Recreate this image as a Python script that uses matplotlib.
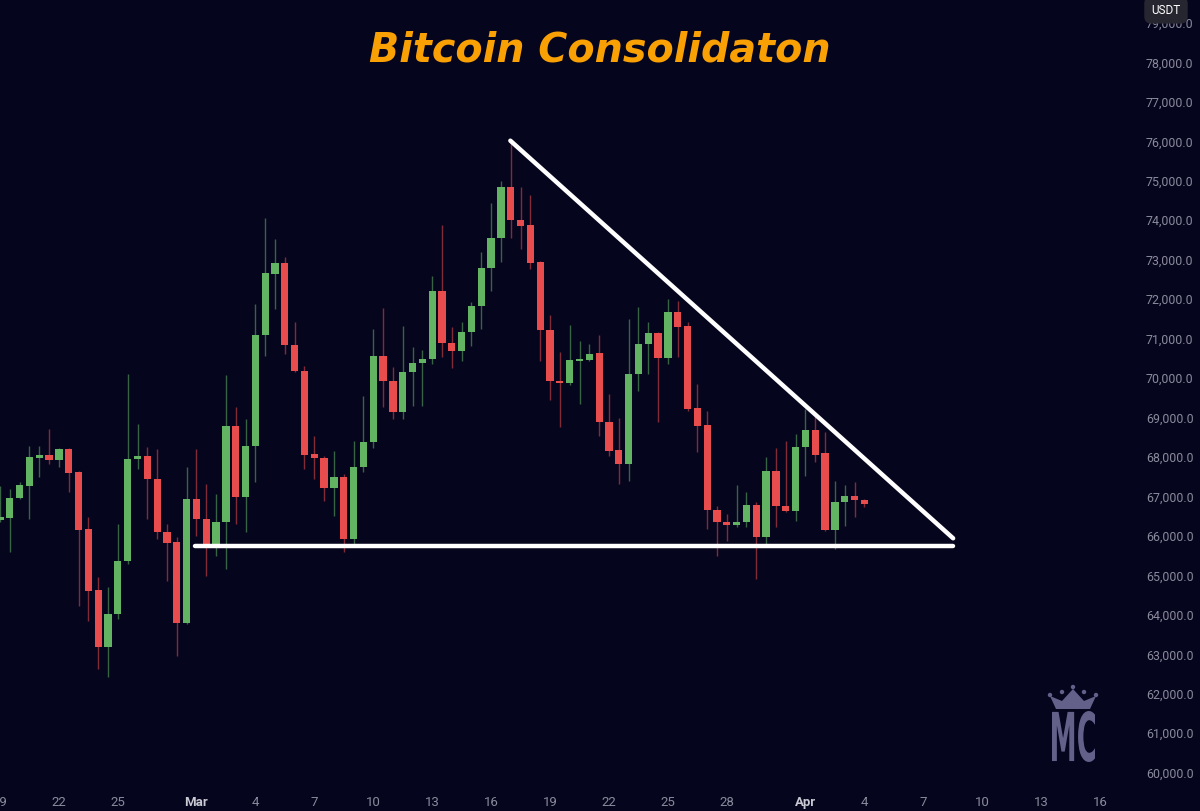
import numpy as np
import matplotlib
import matplotlib.pyplot as plt
from matplotlib.textpath import TextPath
from matplotlib.font_manager import FontProperties
from matplotlib.patches import PathPatch, Polygon, Circle
from matplotlib.transforms import Affine2D, IdentityTransform

matplotlib.use('agg')

# 12h candles, first candle sits on the "19" tick (day 0)
opens = [66378, 66429, 66935, 67239, 67949, 68025, 67898, 68177, 67594, 66150,
         64600, 63160, 63996, 65339, 67924, 68000, 67417, 66074, 65820, 63768,
         66910, 66403, 65719, 66327, 68760, 66961, 68253, 71066, 72612, 72890,
         70812, 70154, 68050, 67949, 67189, 67467, 65896, 67721, 68354, 70534,
         69900, 69115, 70128, 70356, 70458, 72181, 70863, 70660, 71142, 71801,
         72764, 73524, 74816, 73980, 73853, 72916, 71192, 69900, 69849, 70407,
         70432, 70610, 68861, 68152, 67797, 70077, 70838, 71116, 70483, 71649,
         71294, 69216, 68785, 66631, 66327, 66251, 66327, 66758, 65947, 67620,
         66733, 66606, 68228, 68658, 68075, 66124, 66834, 66986, 66885]
highs = [67239, 67163, 67341, 68253, 68253, 68684, 68200, 68200, 67620, 66454,
         64933, 64680, 66276, 70077, 68810, 68228, 68177, 66276, 65947, 67721,
         68177, 67290, 67037, 70052, 69241, 68937, 71851, 74031, 73498, 73042,
         71395, 70280, 68506, 68000, 68126, 67544, 68380, 69520, 71218, 71750,
         70255, 71294, 70762, 70686, 72561, 73853, 71268, 71395, 71902, 73169,
         74411, 74968, 75982, 74816, 74613, 72940, 71573, 70635, 71319, 70914,
         70838, 71066, 69571, 68963, 71471, 71775, 71395, 71140, 71978, 71927,
         71395, 69824, 69140, 66733, 66530, 67265, 67087, 66834, 67974, 68202,
         68380, 68557, 69191, 69013, 68608, 67366, 67265, 67341, 66910]
lows = [66327, 65567, 66910, 66403, 67467, 67797, 67721, 67087, 64199, 63819,
        62602, 62399, 63869, 65260, 67670, 66403, 65896, 64832, 62932, 63743,
        65972, 64959, 65466, 65136, 66276, 66074, 67341, 70534, 71725, 70584,
        70128, 67670, 67417, 66859, 66479, 65567, 65719, 67594, 68200, 69241,
        68937, 68937, 69267, 69267, 70330, 70508, 70230, 70407, 70787, 71218,
        72181, 72916, 73524, 73245, 72738, 70407, 69419, 68734, 69798, 69317,
        70407, 68506, 68000, 67290, 67366, 69647, 70077, 68861, 70331, 70508,
        69140, 68101, 66150, 65466, 65846, 66200, 66200, 64883, 65770, 66200,
        66580, 66353, 67493, 67848, 66100, 65643, 66226, 66454, 66707]
closes = [66454, 66935, 67265, 67974, 68025, 67898, 68177, 67569, 66124, 64579,
          63160, 63996, 65339, 67924, 68000, 67417, 66074, 65795, 63768, 66910,
          66403, 65719, 66327, 68760, 66961, 68253, 71066, 72637, 72890, 70812,
          70154, 68025, 67949, 67189, 67467, 65896, 67721, 68354, 70534, 69900,
          69115, 70128, 70356, 70458, 72181, 70863, 70660, 71142, 71801, 72764,
          73524, 74816, 73980, 73828, 72890, 71192, 69900, 69849, 70432, 70458,
          70584, 68861, 68126, 67797, 70077, 70838, 71116, 70483, 71649, 71268,
          69191, 68760, 66631, 66327, 66251, 66327, 66758, 65947, 67620, 66733,
          66606, 68228, 68658, 68025, 66124, 66834, 66986, 66885, 66783]

tick_days = [0, 3, 6, 10, 13, 16, 19, 22, 25, 28, 31, 34, 37, 41, 44, 47, 50, 53, 56]
tick_labels = ['19', '22', '25', 'Mar', '4', '7', '10', '13', '16', '19', '22',
               '25', '28', 'Apr', '4', '7', '10', '13', '16']
month_labels = ['Mar', 'Apr']
price_ticks = list(range(60000, 80000, 1000))

# triangle lines (day, price)
resist_days = [25.98, 48.52]
resist_prices = [75990, 65914]
support_days = [9.95, 48.52]
support_price = 65727

bg = '#06051e'
up_col = '#62b462'
down_col = '#e84c4c'
logo_col = '#63618a'

fig = plt.figure(figsize=(12, 8.12), dpi=100, facecolor=bg)
ax = fig.add_axes([0, 24 / 812, 1137 / 1200, 788 / 812])
ax.set_facecolor(bg)

o = np.array(opens)
h = np.array(highs)
l = np.array(lows)
c = np.array(closes)
days = np.arange(len(o)) * 0.5
up = c >= o
cols = np.where(up, up_col, down_col)

ax.vlines(days, l, h, colors=cols, linewidth=1.0, alpha=0.55, zorder=2)
body_h = np.maximum(np.abs(c - o), 25)
ax.bar(days, body_h, bottom=np.minimum(o, c), width=0.37, color=cols,
       linewidth=0, zorder=3)

ax.plot(resist_days, resist_prices, color='white', lw=3.2,
        solid_capstyle='round', zorder=4)
ax.plot(support_days, [support_price, support_price], color='white', lw=3.2,
        solid_capstyle='round', zorder=4)

ax.set_xlim(0.023, 57.88)
ax.set_ylim(59612, 79580)

for s in ax.spines.values():
    s.set_visible(False)

ax.yaxis.tick_right()
ax.set_yticks(price_ticks)
ax.set_yticklabels([f'{v:,.1f}' for v in price_ticks])
ax.tick_params(axis='y', length=0, pad=6.5, labelsize=8.9, labelcolor='#8a8a9c')
for t in ax.get_yticklabels():
    t.set_fontfamily('Roboto')

ax.set_xticks(tick_days)
ax.set_xticklabels(tick_labels)
ax.tick_params(axis='x', length=0, pad=6, labelsize=9.5, labelcolor='#8a8a9c')
for t in ax.get_xticklabels():
    t.set_fontfamily('Roboto')
    if t.get_text() in month_labels:
        t.set_color('#c9c9d4')
        t.set_fontweight('bold')

fig.text(0.5, 1 - 51 / 812, 'Bitcoin Consolidaton', ha='center', va='center',
         fontsize=28.5, fontweight='bold', fontstyle='italic', color='#f9a005',
         family='DejaVu Sans')

# USDT badge
fig.text(1166 / 1200, 1 - 11 / 812, 'USDT', ha='center', va='center',
         fontsize=8.5, color='white', family='Roboto',
         bbox=dict(boxstyle='round,pad=0.6', fc='#262630', ec='none'))

# watermark logo, drawn in pixel space (origin bottom-left)
H = 812
tp = TextPath((0, 0), 'MC', size=40, prop=FontProperties(family='DejaVu Sans', weight='bold'))
ext = tp.get_extents()
sx = (1095 - 1052) / ext.width
sy = (763 - 712) / ext.height
tr = Affine2D().translate(-ext.x0, -ext.y0).scale(sx, sy).translate(1052, H - 763)
fig.add_artist(PathPatch(tr.transform_path(tp), fc=logo_col, ec='none',
                         transform=IdentityTransform()))
crown = [(1056, 710), (1050, 697), (1062, 702), (1073, 690), (1084, 702),
         (1096, 697), (1090, 710)]
fig.add_artist(Polygon([(x, H - y) for x, y in crown], closed=True, fc=logo_col,
                       ec='none', transform=IdentityTransform()))
for x, y in [(1050, 696), (1062, 693), (1073, 688), (1084, 693), (1096, 696)]:
    fig.add_artist(Circle((x, H - y), 2.2, fc=logo_col, ec='none',
                          transform=IdentityTransform()))

plt.savefig('out.png', dpi=100, facecolor=bg)
